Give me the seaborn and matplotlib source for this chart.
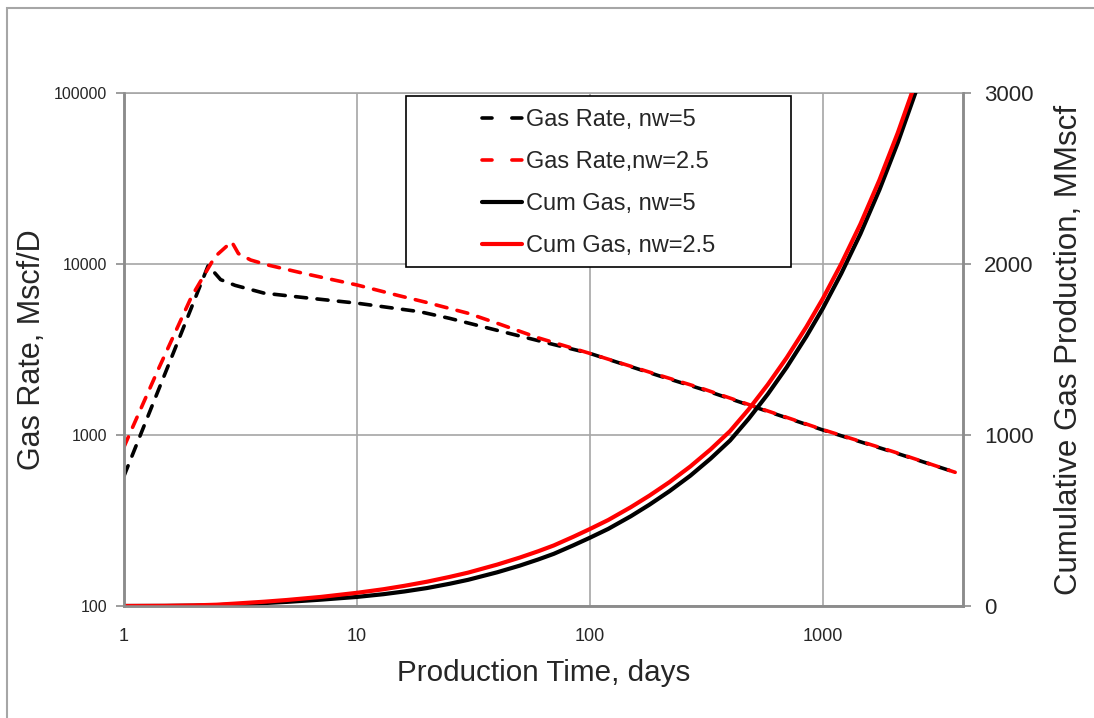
import numpy as np
import pandas as pd
import seaborn as sns
import matplotlib
matplotlib.use("Agg")
import matplotlib.pyplot as plt
from matplotlib.ticker import FixedLocator, FixedFormatter, NullLocator
from matplotlib.patches import Rectangle
from matplotlib.lines import Line2D

# gas rate, Mscf/D
t_rate_nw5 = [1, 1.31, 1.77, 2.3, 2.6, 3.0, 4, 6, 10, 18.6, 25, 45, 70, 100, 200, 300, 500, 1000, 2000, 3700]
q_rate_nw5 = [575, 1440, 4000, 9800, 8100, 7500, 6750, 6350, 5900, 5260, 4810, 3930, 3380, 3000, 2210, 1860, 1470, 1070, 795, 605]

t_rate_nw25 = [1, 1.06, 1.4, 1.95, 2.46, 2.9, 3.1, 3.5, 4.1, 6, 10, 15, 20, 30, 41, 60, 100, 200, 300, 500, 1000, 2000, 3700]
q_rate_nw25 = [850, 1020, 2400, 6440, 11040, 13500, 11500, 10550, 9900, 8770, 7540, 6550, 5950, 5150, 4450, 3700, 3000, 2230, 1880, 1480, 1075, 800, 605]

# cumulative gas, MMscf
t_cum = [1, 1.5, 2, 2.5, 3, 4, 5, 7, 10, 13, 16, 20, 25, 30, 40, 50, 60, 70, 85, 100,
         120, 150, 180, 220, 270, 330, 400, 480, 580, 700, 850, 1000, 1200, 1450, 1750,
         2100, 2500, 3000, 3700]
cum_nw5 = [0, 0.5, 2, 4.5, 9, 17, 24, 37, 53, 69, 85, 105, 130, 153, 197, 236, 272, 305, 355, 399,
           451, 525, 592, 672, 762, 862, 968, 1094, 1238, 1396, 1576, 1740, 1944, 2176, 2434,
           2711, 3003, 3342, 3783]
cum_nw25 = [0, 1, 3.5, 7.5, 14, 25, 35, 53, 77, 98, 118, 142, 170, 195, 242, 283, 320, 354, 405, 450,
            503, 578, 645, 725, 816, 916, 1023, 1149, 1294, 1452, 1632, 1797, 2001, 2233, 2491,
            2768, 3060, 3400, 3841]

labels = ["Gas Rate, nw=5", "Gas Rate,nw=2.5", "Cum Gas, nw=5", "Cum Gas, nw=2.5"]

sns.set_style("white")
plt.rcParams['font.family'] = ['Liberation Sans', 'DejaVu Sans']
plt.rcParams['lines.scale_dashes'] = False

grey = "#8c8c8c"
fig = plt.figure(figsize=(10.94, 7.18), dpi=100)
ax = fig.add_axes([0.1133, 0.156, 0.767, 0.7145])
ax2 = ax.twinx()

dash = (8, 7.5)
sns.lineplot(x=t_rate_nw5, y=q_rate_nw5, ax=ax, color="black", lw=2.6, sort=False)
sns.lineplot(x=t_rate_nw25, y=q_rate_nw25, ax=ax, color="red", lw=2.6, sort=False)
for ln in ax.lines:
    ln.set_dashes(dash)
    ln.set_dash_capstyle("round")

sns.lineplot(x=t_cum, y=cum_nw5, ax=ax2, color="black", lw=3, sort=False)
sns.lineplot(x=t_cum, y=cum_nw25, ax=ax2, color="red", lw=3, sort=False)

ax.set_xscale("log")
ax.set_yscale("log")
ax.set_xlim(1, 4000)
ax.set_ylim(100, 100000)
ax2.set_ylim(0, 3000)

ax.xaxis.set_major_locator(FixedLocator([1, 10, 100, 1000]))
ax.xaxis.set_major_formatter(FixedFormatter(["1", "10", "100", "1000"]))
ax.xaxis.set_minor_locator(NullLocator())
ax.yaxis.set_major_locator(FixedLocator([100, 1000, 10000, 100000]))
ax.yaxis.set_major_formatter(FixedFormatter(["100", "1000", "10000", "100000"]))
ax.yaxis.set_minor_locator(NullLocator())
ax2.set_yticks([0, 1000, 2000, 3000])
ax2.set_yticklabels(["0", "1000", "2000", "3000"])

ax.grid(True, which="major", color="#a6a6a6", lw=1.2)
for a in (ax, ax2):
    for s in a.spines.values():
        s.set_color(grey)
        s.set_linewidth(1.8)
ax.spines["top"].set_color("#a6a6a6")
ax.spines["top"].set_linewidth(1.2)
ax2.spines["top"].set_visible(False)

ax.tick_params(axis="x", direction="out", length=6, width=1.2, color=grey, labelsize=13, pad=10)
ax.tick_params(axis="y", direction="out", length=6, width=1.2, color=grey, labelsize=11.5, pad=6)
ax2.tick_params(axis="y", direction="out", length=6, width=1.2, color=grey, labelsize=16, pad=9)

ax.set_xlabel("Production Time, days", fontsize=21.3, labelpad=10)
ax.set_ylabel("Gas Rate, Mscf/D", fontsize=22, labelpad=5)
ax2.set_ylabel("Cumulative Gas Production, MMscf", fontsize=22.5, labelpad=15)

# legend box
box = Rectangle((0.336, 0.661), 0.459, 0.333, transform=ax2.transAxes,
                facecolor="white", edgecolor="black", lw=1.2, zorder=5)
ax2.add_patch(box)
handles = [
    Line2D([], [], color="black", lw=2.6, dashes=(7.2, 14.3), dash_capstyle="round"),
    Line2D([], [], color="red", lw=2.6, dashes=(7.2, 14.3), dash_capstyle="round"),
    Line2D([], [], color="black", lw=3),
    Line2D([], [], color="red", lw=3),
]
leg = ax2.legend(handles, labels, loc="center left", bbox_to_anchor=(0.427, 0.824),
                 frameon=False, fontsize=17, handlelength=1.7, handletextpad=0.15,
                 labelspacing=0.85, borderpad=0, borderaxespad=0)
leg.set_zorder(6)

# outer frame
frame = Rectangle((7 / 1094, -0.1), 1.2, 1.1 - 8 / 718, transform=fig.transFigure,
                  fill=False, edgecolor="#a6a6a6", lw=1.5, clip_on=False)
fig.patches.append(frame)

fig.savefig("out.png", dpi=100)
